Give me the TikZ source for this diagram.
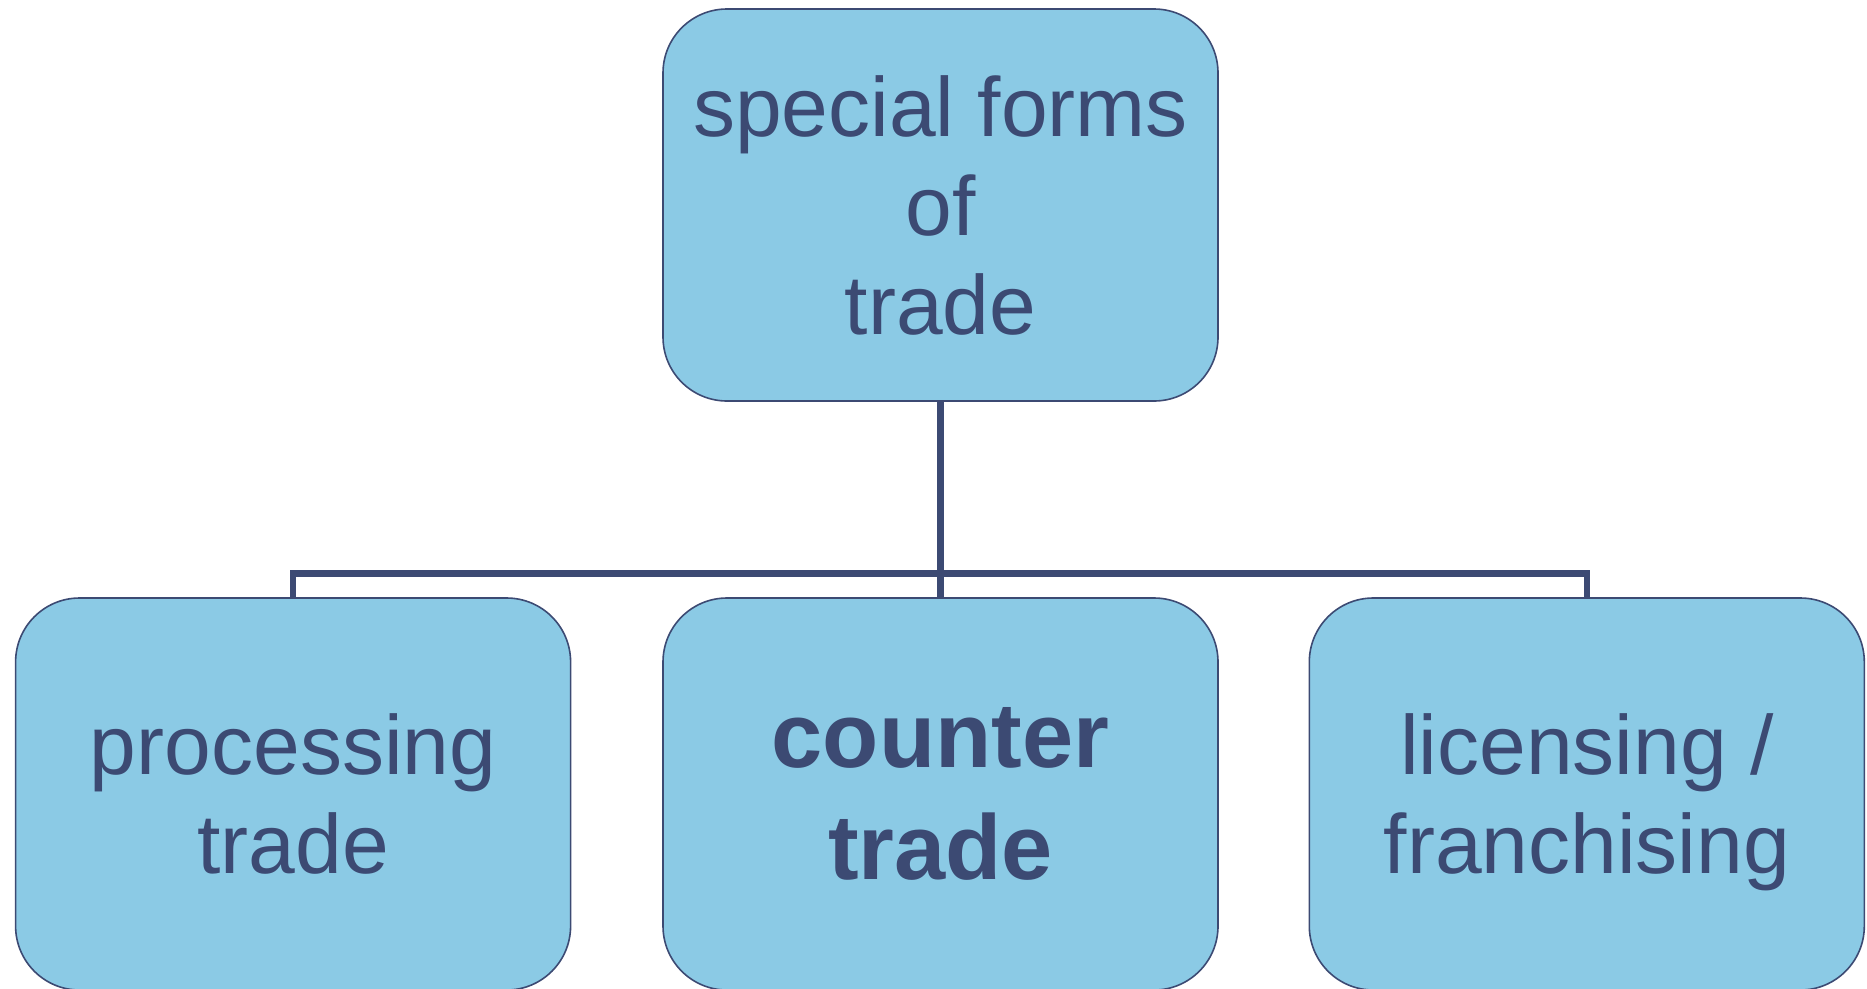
\documentclass[tikz,border=0pt]{standalone}
\usepackage{fontspec}
\setmainfont{Liberation Sans}
\usetikzlibrary{backgrounds}

\definecolor{boxfill}{RGB}{139,202,229}
\definecolor{boxline}{RGB}{60,74,115}

\tikzset{
  formbox/.style={
    draw=boxline, line width=1.6pt, fill=boxfill,
    rounded corners=64pt, inner sep=0pt,
    minimum width=555pt, minimum height=392pt,
    align=center, text=boxline,
    font=\fontsize{84pt}{99pt}\selectfont
  },
  boldbox/.style={
    formbox, font=\fontsize{92pt}{112pt}\selectfont\bfseries
  },
  conn/.style={draw=boxline, line width=6.5pt, line join=miter}
}

\begin{document}
\begin{tikzpicture}[x=1pt, y=-1pt]
  \useasboundingbox (0,0) rectangle (1867,988);

  % root of the hierarchy
  \node[formbox] (root) at (940.5,205) {special forms\\of\\trade};

  % the three kinds of special trade
  \node[formbox] (proc) at (293.1,794) {processing\\trade};
  \node[boldbox] (counter) at (940.5,794) {counter\\trade};
  \node[formbox] (lic) at (1586.8,794) {licensing /\\\smash{franchising}};

  % org-chart connectors behind the boxes
  \coordinate (bar) at (940.5,573.5);
  \begin{scope}[on background layer]
    \draw[conn] (root.south) -- (counter.north);
    \draw[conn] (proc.north) |- (bar) -| (lic.north);
  \end{scope}
\end{tikzpicture}
\end{document}
